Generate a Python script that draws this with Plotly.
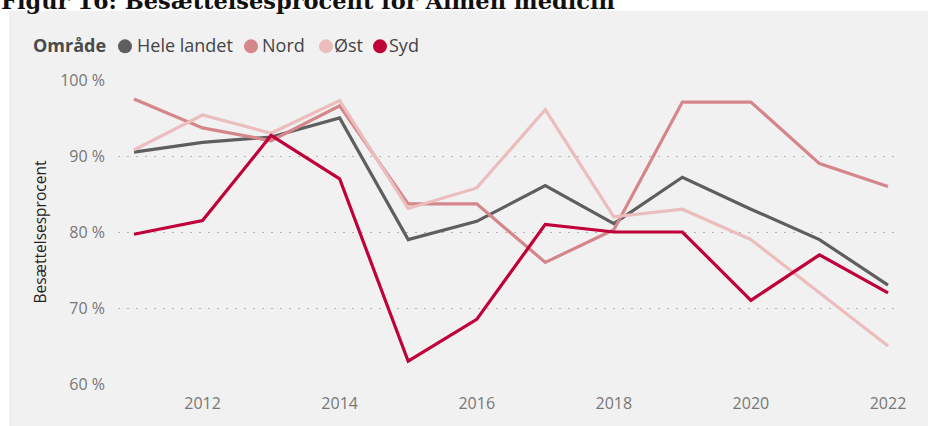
import plotly.graph_objects as go

years = list(range(2011, 2023))
series_names = ["Hele landet", "Nord", "Øst", "Syd"]
hele_landet = [90.5, 91.8, 92.5, 95.0, 79.0, 81.4, 86.1, 81.1, 87.2, 83.0, 79.0, 73.0]
nord = [97.5, 93.7, 92.0, 96.6, 83.7, 83.7, 76.0, 80.3, 97.1, 97.1, 89.0, 86.0]
oest = [90.8, 95.4, 93.0, 97.3, 83.1, 85.8, 96.1, 82.0, 83.0, 79.0, 72.0, 65.0]
syd = [79.7, 81.5, 92.7, 87.0, 63.0, 68.5, 81.0, 80.0, 80.0, 71.0, 77.0, 72.0]
colors = ["#5E5E5E", "#D5868B", "#EBBDBD", "#C00038"]
y_ticks = [60, 70, 80, 90, 100]
y_tick_labels = [f"{v} %" for v in y_ticks]
x_ticks = [2012, 2014, 2016, 2018, 2020, 2022]
title_text = "Figur 16: Besættelsesprocent for Almen medicin"
legend_title = "Område"
y_title = "Besættelsesprocent"

W, H = 928, 426
L, R, T, B = 118, 28, 80, 39
PW, PH = W - L - R, H - T - B


def px(x):
    return (x - L) / PW


def py(y):
    return (H - B - y) / PH


fig = go.Figure()
for name, vals, col in zip(series_names, [hele_landet, nord, oest, syd], colors):
    fig.add_trace(go.Scatter(x=years, y=vals, mode="lines", name=name,
                             line=dict(color=col, width=3.2), showlegend=False,
                             hoverinfo="skip"))

font = "Open Sans, Noto Sans, sans-serif"
shapes = [dict(type="rect", xref="paper", yref="paper", x0=px(9), x1=px(W + 5),
               y0=py(H + 5), y1=py(10), fillcolor="#F1F1F1", line_width=0, layer="below")]
annotations = [
    dict(text="<b>" + title_text + "</b>", xref="paper", yref="paper", x=px(-1), y=py(0),
         xanchor="left", yanchor="middle", showarrow=False,
         font=dict(family="DejaVu Serif", size=22.5, color="#111111")),
    dict(text="<b>" + legend_title + "</b>", xref="paper", yref="paper", x=px(31), y=py(45),
         xanchor="left", yanchor="middle", showarrow=False,
         font=dict(family=font, size=18, color="#4A4A4A")),
    dict(text=y_title, xref="paper", yref="paper", x=px(40), y=py(234), textangle=-90,
         xanchor="center", yanchor="middle", showarrow=False,
         font=dict(family=font, size=15.5, color="#252423")),
]
circle_x = [125, 251, 326, 380]
text_x = [135, 260, 332, 387]
for name, col, cx, tx in zip(series_names, colors, circle_x, text_x):
    shapes.append(dict(type="circle", xref="paper", yref="paper", xsizemode="pixel",
                       ysizemode="pixel", xanchor=px(cx), yanchor=py(46),
                       x0=-7, x1=7, y0=-7, y1=7, fillcolor=col, line_width=0))
    annotations.append(dict(text=name, xref="paper", yref="paper", x=px(tx), y=py(45),
                            xanchor="left", yanchor="middle", showarrow=False,
                            font=dict(family=font, size=18, color="#444444")))

fig.update_layout(
    width=W, height=H,
    margin=dict(l=L, r=R, t=T, b=B, pad=0),
    paper_bgcolor="white", plot_bgcolor="rgba(0,0,0,0)",
    showlegend=False,
    shapes=shapes, annotations=annotations,
    xaxis=dict(range=[2011 - 16 / 68.55, 2022 + 12 / 68.55], tickvals=x_ticks,
               showgrid=False, zeroline=False, showline=False, ticks="",
               ticklabelstandoff=8,
               tickfont=dict(family=font, size=16, color="#777777")),
    yaxis=dict(range=[60, 100], tickmode="array", tickvals=y_ticks, ticktext=y_tick_labels,
               showgrid=True, gridcolor="#B4B4B4", gridwidth=1.2, griddash="1.5px,7.5px",
               zeroline=False, showline=False, ticks="", ticklabelstandoff=12,
               tickfont=dict(family=font, size=16, color="#777777")),
)

fig.write_html("out.html", config={"displayModeBar": False},
               post_script="document.body.style.margin='0';document.body.style.padding='0';")
